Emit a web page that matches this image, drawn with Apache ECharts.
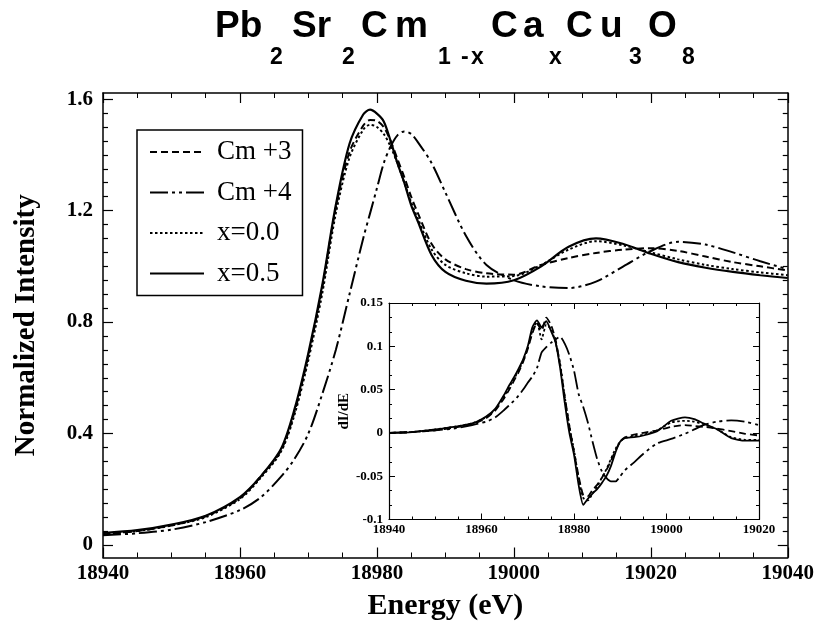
<!DOCTYPE html>
<html><head><meta charset="utf-8">
<script src="https://cdn.jsdelivr.net/npm/echarts@6/dist/echarts.min.js"></script>
<style>html,body{margin:0;padding:0;background:#fff}#c{width:817px;height:629px}</style>
</head><body><div id="c"></div>
<script>
// ---------- DATA ----------
const seriesNames = ['Cm +3', 'Cm +4', 'x=0.0', 'x=0.5'];

const energies = [18940, 18945, 18950, 18955, 18960, 18963, 18966, 18968, 18970, 18972, 18974, 18976, 18978, 18979, 18980, 18981, 18982, 18983, 18984, 18985, 18986, 18988, 18990, 18993, 18996, 19000, 19004, 19008, 19012, 19016, 19020, 19024, 19028, 19032, 19036, 19040];
const cm3 = [0.038, 0.05, 0.07, 0.103, 0.168, 0.245, 0.34, 0.48, 0.68, 0.92, 1.21, 1.41, 1.505, 1.525, 1.522, 1.50, 1.45, 1.385, 1.32, 1.25, 1.19, 1.08, 1.025, 0.99, 0.975, 0.97, 1.005, 1.03, 1.048, 1.06, 1.065, 1.055, 1.035, 1.015, 1.0, 0.985];
const cm4 = [0.035, 0.042, 0.055, 0.082, 0.125, 0.17, 0.245, 0.31, 0.40, 0.54, 0.70, 0.90, 1.10, 1.19, 1.28, 1.37, 1.43, 1.47, 1.484, 1.475, 1.445, 1.37, 1.265, 1.11, 1.005, 0.95, 0.928, 0.922, 0.945, 1.0, 1.055, 1.088, 1.078, 1.05, 1.018, 0.99];
const x00 = [0.04, 0.05, 0.07, 0.10, 0.165, 0.24, 0.335, 0.47, 0.665, 0.90, 1.19, 1.39, 1.49, 1.508, 1.50, 1.475, 1.43, 1.37, 1.30, 1.23, 1.17, 1.06, 1.005, 0.975, 0.963, 0.965, 1.005, 1.06, 1.09, 1.075, 1.05, 1.025, 1.005, 0.99, 0.978, 0.968];
const x05 = [0.043, 0.053, 0.073, 0.105, 0.172, 0.245, 0.345, 0.49, 0.69, 0.93, 1.22, 1.44, 1.545, 1.562, 1.548, 1.52, 1.45, 1.37, 1.30, 1.22, 1.16, 1.04, 0.98, 0.948, 0.938, 0.95, 1.0, 1.07, 1.10, 1.08, 1.045, 1.015, 0.995, 0.98, 0.968, 0.958];

const insetEnergies = [18940, 18945, 18950, 18954, 18958, 18961, 18963, 18965, 18966, 18967, 18968, 18969, 18970, 18971, 18972, 18973, 18974, 18975, 18976, 18977, 18978, 18979, 18980, 18981, 18982, 18983, 18984, 18985, 18986, 18987, 18988, 18989, 18990, 18991, 18993, 18995, 18998, 19001, 19004, 19006, 19008, 19011, 19014, 19017, 19020];
const dCm3 = [0.0, 0.001, 0.003, 0.006, 0.01, 0.017, 0.026, 0.041, 0.05, 0.06, 0.07, 0.082, 0.097, 0.115, 0.127, 0.118, 0.133, 0.125, 0.108, 0.078, 0.042, 0.008, -0.022, -0.05, -0.072, -0.073, -0.066, -0.06, -0.052, -0.043, -0.032, -0.02, -0.01, -0.005, -0.002, 0.0, 0.003, 0.007, 0.009, 0.008, 0.007, 0.005, 0.002, -0.001, -0.003];
const dCm4 = [0.0, 0.001, 0.003, 0.005, 0.009, 0.013, 0.018, 0.027, 0.032, 0.037, 0.043, 0.05, 0.058, 0.065, 0.075, 0.093, 0.099, 0.104, 0.108, 0.111, 0.103, 0.09, 0.072, 0.045, 0.03, 0.012, -0.01, -0.03, -0.044, -0.052, -0.056, -0.056, -0.05, -0.043, -0.034, -0.024, -0.012, -0.007, -0.001, 0.004, 0.009, 0.013, 0.0145, 0.013, 0.009];
const dX00 = [0.0, 0.001, 0.004, 0.007, 0.011, 0.018, 0.027, 0.043, 0.053, 0.062, 0.072, 0.083, 0.098, 0.118, 0.128, 0.108, 0.125, 0.12, 0.105, 0.08, 0.042, 0.008, -0.02, -0.052, -0.075, -0.078, -0.07, -0.062, -0.052, -0.042, -0.03, -0.018, -0.01, -0.006, -0.004, -0.002, 0.003, 0.012, 0.014, 0.013, 0.01, 0.004, -0.005, -0.008, -0.008];
const dX05 = [0.0, 0.001, 0.004, 0.007, 0.011, 0.019, 0.028, 0.045, 0.055, 0.064, 0.074, 0.085, 0.10, 0.122, 0.130, 0.122, 0.129, 0.118, 0.105, 0.075, 0.035, 0.0, -0.025, -0.06, -0.083, -0.076, -0.07, -0.065, -0.058, -0.05, -0.038, -0.022, -0.01, -0.006, -0.005, -0.003, 0.002, 0.014, 0.018, 0.016, 0.011, 0.004, -0.006, -0.009, -0.009];

const mainYMajorTicks = [0, 0.4, 0.8, 1.2, 1.6];
const mainYTickLabels = ['0', '0.4', '0.8', '1.2', '1.6'];
const mainYMinorTicks = [0.05, 0.1, 0.15, 0.2, 0.25, 0.3, 0.35, 0.45, 0.5, 0.55, 0.6, 0.65, 0.7, 0.75, 0.85, 0.9, 0.95, 1.0, 1.05, 1.1, 1.15, 1.25, 1.3, 1.35, 1.4, 1.45, 1.5, 1.55];

const titlePieces = [
  ['Pb', 215, 0], ['2', 270, 1], ['Sr', 292, 0], ['2', 342, 1], ['C', 361, 0], ['m', 395, 0],
  ['1', 438, 1], ['-', 461, 1], ['x', 471, 1], ['C', 491, 0], ['a', 523, 0], ['x', 549, 1],
  ['C', 566, 0], ['u', 600, 0], ['3', 629, 1], ['O', 648, 0], ['8', 682, 1]
];

// ---------- CHART ----------
const SERIF = "'Liberation Serif', 'Times New Roman', serif";
const SANS = "'Liberation Sans', Arial, sans-serif";
const pair = (xs, ys) => xs.map((x, i) => [x, ys[i]]);
const styles = [
  { type: [7, 4], width: 2 },
  { type: [18, 4, 3, 4, 3, 4], width: 2 },
  { type: [2.5, 2.5], width: 2 },
  { type: 'solid', width: 2.2 }
];
const mainData = [cm3, cm4, x00, x05];
const insetData = [dCm3, dCm4, dX00, dX05];

const axLine = (w) => ({ show: true, onZero: false, lineStyle: { color: '#000', width: w } });
const MAIN_MIN = -0.045, MAIN_MAX = 1.622;
const plain = v => String(v);

function mainY(pos, major, labels) {
  return {
    gridIndex: 0, type: 'value', position: pos, min: MAIN_MIN, max: MAIN_MAX,
    axisLine: major ? axLine(1.5) : { show: false },
    axisTick: { show: true, inside: true, length: major ? 10 : 5, customValues: major ? mainYMajorTicks : mainYMinorTicks, lineStyle: { color: '#000', width: 1.2 } },
    axisLabel: labels ? {
      show: true, customValues: mainYMajorTicks, margin: 10,
      formatter: v => mainYTickLabels[mainYMajorTicks.indexOf(v)] ?? '',
      fontFamily: SERIF, fontWeight: 'bold', fontSize: 21, color: '#000'
    } : { show: false },
    splitLine: { show: false },
    name: labels ? 'Normalized Intensity' : '', nameLocation: 'middle', nameGap: 62,
    nameTextStyle: { fontFamily: SERIF, fontWeight: 'bold', fontSize: 29, color: '#000' }
  };
}
function mainX(pos) {
  const bottom = pos === 'bottom';
  return {
    gridIndex: 0, type: 'value', position: pos, min: 18940, max: 19040, interval: 20,
    axisLine: axLine(1.5),
    axisTick: { inside: true, length: 10, lineStyle: { color: '#000', width: 1.2 } },
    minorTick: { show: true, splitNumber: 4, length: 5, lineStyle: { color: '#000', width: 1 } },
    axisLabel: { show: bottom, margin: 6, formatter: plain, fontFamily: SERIF, fontWeight: 'bold', fontSize: 21, color: '#000' },
    splitLine: { show: false },
    name: bottom ? 'Energy (eV)' : '', nameLocation: 'middle', nameGap: 34,
    nameTextStyle: { fontFamily: SERIF, fontWeight: 'bold', fontSize: 30, color: '#000' }
  };
}
function insetX(pos) {
  const bottom = pos === 'bottom';
  return {
    gridIndex: 1, type: 'value', position: pos, min: 18940, max: 19020, interval: 20,
    axisLine: axLine(1.2),
    axisTick: { inside: true, length: 6, lineStyle: { color: '#000', width: 1 } },
    minorTick: { show: true, splitNumber: 4, length: 3, lineStyle: { color: '#000', width: 1 } },
    axisLabel: { show: bottom, margin: 4, formatter: plain, fontFamily: SERIF, fontWeight: 'bold', fontSize: 13, color: '#000' },
    splitLine: { show: false }
  };
}
function insetY(pos) {
  const left = pos === 'left';
  return {
    gridIndex: 1, type: 'value', position: pos, min: -0.1, max: 0.15, interval: 0.05,
    axisLine: axLine(1.2),
    axisTick: { inside: true, length: 6, lineStyle: { color: '#000', width: 1 } },
    minorTick: { show: true, splitNumber: 3, length: 3, lineStyle: { color: '#000', width: 1 } },
    axisLabel: { show: left, margin: 6, fontFamily: SERIF, fontWeight: 'bold', fontSize: 13, color: '#000' },
    splitLine: { show: false },
    name: left ? 'dI/dE' : '', nameLocation: 'middle', nameGap: 32,
    nameTextStyle: { fontFamily: SERIF, fontWeight: 'bold', fontSize: 15, color: '#000' }
  };
}

const series = [];
seriesNames.forEach((n, i) => {
  series.push({
    name: n, type: 'line', xAxisIndex: 0, yAxisIndex: 0, data: pair(energies, mainData[i]),
    symbol: 'none', smooth: 0.3, itemStyle: { color: '#000' },
    lineStyle: Object.assign({ color: '#000' }, styles[i]), silent: true
  });
});
seriesNames.forEach((n, i) => {
  series.push({
    name: n + ' dI/dE', type: 'line', xAxisIndex: 2, yAxisIndex: 4, data: pair(insetEnergies, insetData[i]),
    symbol: 'none', smooth: 0.2, itemStyle: { color: '#000' },
    lineStyle: Object.assign({ color: '#000' }, styles[i], { width: 1.8 }), silent: true
  });
});

const graphic = titlePieces.map(([t, x, sub]) => ({
  type: 'text', left: x, top: sub ? 46 : 8,
  style: { text: t, fill: '#000', font: 'bold ' + (sub ? 23 : 37) + 'px ' + SANS }
}));

const chart = echarts.init(document.getElementById('c'), null, { renderer: 'canvas' });
chart.setOption({
  animation: false,
  backgroundColor: '#fff',
  grid: [
    { left: 103, right: 26, top: 93, bottom: 71.5 },
    { left: 389, right: 58, top: 303, bottom: 109.5 }
  ],
  xAxis: [mainX('bottom'), mainX('top'), insetX('bottom'), insetX('top')],
  yAxis: [mainY('left', true, true), mainY('left', false, false), mainY('right', true, false), mainY('right', false, false), insetY('left'), insetY('right')],
  legend: {
    data: seriesNames, orient: 'vertical', left: 137, top: 130,
    padding: [7, 11, 7, 12], itemWidth: 54, itemHeight: 14, itemGap: 10.5,
    borderColor: '#000', borderWidth: 1.5, backgroundColor: '#fff',
    itemStyle: { opacity: 0 },
    textStyle: { fontFamily: SERIF, fontSize: 27, color: '#000', lineHeight: 30, padding: [0, 0, 0, 8] },
    selectedMode: false
  },
  graphic: graphic,
  series: series
});
</script></body></html>
